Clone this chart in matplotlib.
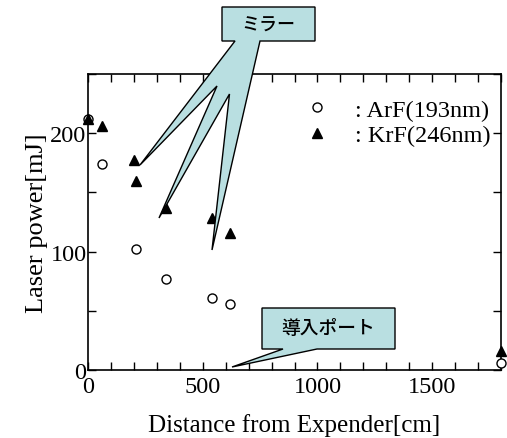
import numpy as np
import matplotlib.pyplot as plt
from matplotlib.patches import Polygon
from matplotlib.ticker import MultipleLocator

# data
arf_x = [0, 60, 210, 340, 540, 620, 1800]
arf_y = [212, 174, 102, 77, 61, 56, 6]
krf_x = [0, 60, 200, 210, 340, 540, 620, 1800]
krf_y = [212, 206, 177, 160, 137, 128, 116, 16]

arf_label = ": ArF(193nm)"
krf_label = ": KrF(246nm)"
xlabel = "Distance from Expender[cm]"
ylabel = "Laser power[mJ]"
note_mirror = "ミラー"
note_port = "導入ポート"

W, H = 507, 439
plt.rcParams["font.family"] = ["Liberation Serif", "DejaVu Serif"]

fig = plt.figure(figsize=(W / 100, H / 100), dpi=100)
ax = fig.add_axes([88 / W, 1 - 371 / H, (501 - 88) / W, (371 - 75) / H])

ax.plot(arf_x, arf_y, "o", ms=6.5, mfc="white", mec="black", mew=1.0,
        ls="none", clip_on=False, label=arf_label, zorder=3)
ax.plot(krf_x, krf_y, "^", ms=7.5, color="black", ls="none",
        clip_on=False, label=krf_label, zorder=4)

ax.set_xlim(0, 1800)
ax.set_ylim(0, 250)
ax.xaxis.set_major_locator(MultipleLocator(500))
ax.xaxis.set_minor_locator(MultipleLocator(100))
ax.yaxis.set_major_locator(MultipleLocator(100))
ax.yaxis.set_minor_locator(MultipleLocator(50))
ax.tick_params(which="both", direction="in", top=True, right=True,
               labelsize=17.5, width=1, length=5.5)
ax.tick_params(axis="x", pad=4)
ax.tick_params(axis="y", pad=1)
for s in ax.spines.values():
    s.set_linewidth(1.2)

ax.set_xlabel(xlabel, fontsize=18, labelpad=12)
ax.set_ylabel(ylabel, fontsize=19, labelpad=2)

ax.legend(loc="upper right", bbox_to_anchor=(0.998, 0.95), frameon=False,
          fontsize=17.5, handletextpad=1.05, labelspacing=0.15,
          borderaxespad=0, handlelength=1.0)


def px(pts):
    return [(x / 100, (H - y) / 100) for x, y in pts]


fill = "#b9dfe1"
mirror_shape = [(222, 8), (315, 8), (315, 42), (260, 42), (212, 251),
                (229.5, 95), (159, 219), (217, 87), (140, 166),
                (235, 42), (222, 42)]
port_shape = [(262, 309), (395, 309), (395, 350), (317, 350), (232, 368),
              (283, 350), (262, 350)]
for shape in (mirror_shape, port_shape):
    fig.patches.append(Polygon(px(shape), closed=True, facecolor=fill,
                               edgecolor="black", lw=1.0,
                               transform=fig.dpi_scale_trans, zorder=5))

jp = ["Noto Sans CJK JP", "DejaVu Sans"]
fig.text(268 / W, 1 - 26 / H, note_mirror, family=jp, fontsize=13,
         weight="medium", ha="center", va="center", zorder=6)
fig.text(328 / W, 1 - 328 / H, note_port, family=jp, fontsize=13.5,
         weight="medium", ha="center", va="center", zorder=6)

fig.savefig("out.png", dpi=100)
